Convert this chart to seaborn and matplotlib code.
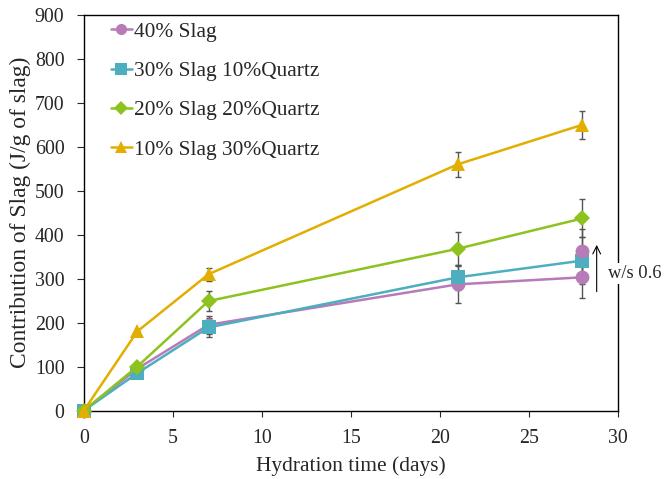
import numpy as np
import pandas as pd
import seaborn as sns
import matplotlib
matplotlib.use("Agg")
import matplotlib.pyplot as plt

# Hydration time (days) and slag contribution (J/g of slag) for each mix
days = [0, 3, 7, 21, 28]
mixes = ["40% Slag", "30% Slag 10%Quartz", "20% Slag 20%Quartz", "10% Slag 30%Quartz"]
slag40 = [0, 95, 195, 287, 303]
slag30_q10 = [0, 85, 189, 303, 341]
slag20_q20 = [0, 100, 249, 368, 437]
slag10_q30 = [0, 180, 310, 560, 650]

# Standard deviations (error bars)
err40 = [0, 0, 20, 42, 46]
err30_q10 = [0, 0, 22, 28, 54]
err20_q20 = [0, 0, 23, 37, 43]
err10_q30 = [0, 0, 15, 28, 32]

# Extra 40% Slag measurement at w/s 0.6
ws06_day = [28]
ws06_value = [362]
ws06_err = [52]

colors = ["#B77BB7", "#4DAEC0", "#8DC21F", "#E2AE00"]
markers = ["o", "s", "D", "^"]

values = [slag40, slag30_q10, slag20_q20, slag10_q30]
errors = [err40, err30_q10, err20_q20, err10_q30]

df = pd.DataFrame({
    "day": np.tile(days, len(mixes)),
    "value": np.concatenate(values),
    "mix": np.repeat(mixes, len(days)),
})

sns.set_style("ticks")
plt.rcParams["font.family"] = ["Liberation Serif", "DejaVu Serif"]
plt.rcParams["font.size"] = 14

fig = plt.figure(figsize=(6.66, 4.79), dpi=100)
ax = fig.add_axes([0.126, 0.143, 0.802, 0.826])

for mix, vals, errs in zip(mixes, values, errors):
    ax.errorbar(days, vals, yerr=errs, fmt="none", ecolor="#555555",
                elinewidth=1.0, capsize=2.5, capthick=1.0, zorder=1)
ax.errorbar(ws06_day, ws06_value, yerr=ws06_err, fmt="none", ecolor="#555555",
            elinewidth=1.0, capsize=2.5, capthick=1.0, zorder=1)

sns.lineplot(data=df, x="day", y="value", hue="mix", style="mix",
             hue_order=mixes, style_order=mixes,
             palette=colors, markers=dict(zip(mixes, markers)), dashes=False,
             markersize=10, markeredgewidth=0, linewidth=1.8, ax=ax, zorder=3)

ax.plot(ws06_day, ws06_value, linestyle="none", marker="o", markersize=10,
        markeredgewidth=0, color=colors[0], zorder=3)

# diamonds read larger than the other shapes at the same size
for line in ax.get_lines():
    line.set_clip_on(False)
    if line.get_marker() == "D":
        line.set_markersize(8.5)

ax.annotate("", xy=(28.8, 383), xytext=(28.8, 264),
            arrowprops=dict(arrowstyle="->", color="black", lw=0.8))
ax.text(29.45, 312, "w/s 0.6", ha="left", va="center", fontsize=13.3,
        bbox=dict(facecolor="white", edgecolor="none", pad=1.5), zorder=5,
        clip_on=False)

ax.set_xlim(0, 30)
ax.set_ylim(0, 900)
ax.set_xticks(range(0, 31, 5))
ax.set_yticks(range(0, 901, 100))
ax.set_xlabel("Hydration time (days)", fontsize=15.4, labelpad=6)
ax.set_ylabel("Contribution of Slag (J/g of slag)", fontsize=16.9, labelpad=3)
ax.tick_params(direction="out", width=0.8, labelsize=14.3)
ax.tick_params(axis="x", length=4, pad=9)
ax.tick_params(axis="y", length=5, pad=9)
for s in ax.spines.values():
    s.set_linewidth(1.0)
    s.set_color("black")

leg = ax.legend(loc="upper left", bbox_to_anchor=(0.05, 0.982), frameon=False,
                handlelength=1.0, handletextpad=0.1, labelspacing=0.9,
                fontsize=15.4, borderaxespad=0, borderpad=0)
for h in leg.legend_handles:
    h.set_markersize(8 if h.get_marker() != "D" else 7)

fig.savefig("out.png", dpi=100)
